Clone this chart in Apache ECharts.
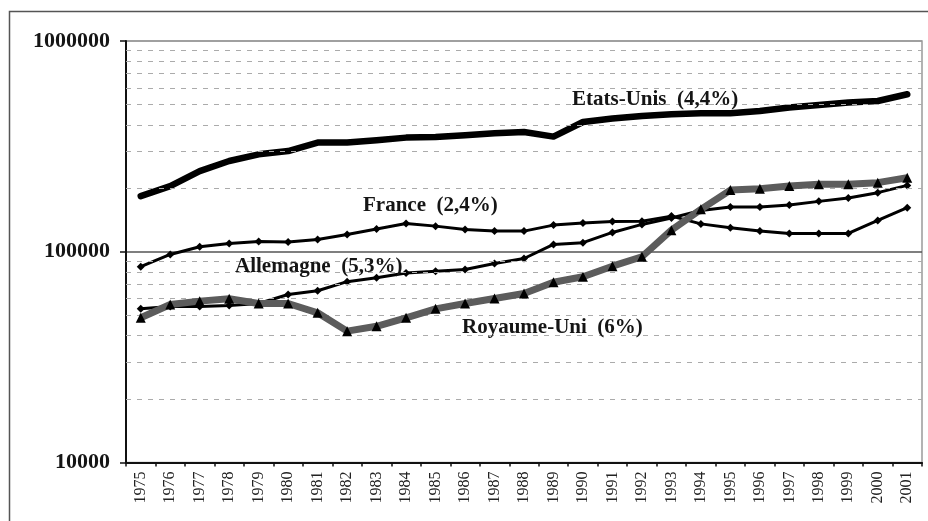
<!DOCTYPE html>
<html>
<head>
<meta charset="utf-8">
<script src="https://cdn.jsdelivr.net/npm/echarts@6/dist/echarts.min.js"></script>
<style>
html,body{margin:0;padding:0;background:#fff;}
#chart{width:928px;height:521px;}
</style>
</head>
<body>
<div id="chart"></div>
<script>
var years = ['1975','1976','1977','1978','1979','1980','1981','1982','1983','1984','1985','1986','1987','1988','1989','1990','1991','1992','1993','1994','1995','1996','1997','1998','1999','2000','2001'];
var etatsUnis = [183700,204900,241500,269400,289900,300600,329500,329500,337900,348000,350000,356800,364800,370000,351900,412800,428400,440900,449200,454000,454000,465600,483200,497100,510300,519300,558800];
var france = [84900,97100,105600,109500,111900,111100,114400,120800,128300,136300,132300,127600,125300,125300,133800,137000,139300,139700,147600,135600,130000,125300,122100,122100,122100,140800,161800];
var allemagne = [53600,55000,55000,55600,56800,62700,65300,72100,75200,79300,80900,82400,88000,92900,108300,110400,123500,134800,144700,157100,162900,162900,166500,173400,179800,190700,206500];
var royaumeUni = [48600,56200,58300,59800,56800,56800,51300,42000,44300,48600,53600,56800,60000,63400,71700,76100,85400,94700,126600,158900,196200,199200,204900,208800,208800,212700,224600];
var yTicks = [10000, 100000, 1000000];
var minorGrid = [20000,30000,40000,50000,60000,70000,80000,90000,200000,300000,400000,500000,600000,700000,800000,900000];
var seriesLabels = ['Etats-Unis  (4,4%)', 'France  (2,4%)', 'Allemagne  (5,3%)', 'Royaume-Uni  (6%)'];

var serif = "'Liberation Serif','Times New Roman',serif";
var labelFont = "bold 21px 'Liberation Serif','Times New Roman',serif";
var chart = echarts.init(document.getElementById('chart'), null, {renderer:'canvas'});
var option = {
  animation: false,
  backgroundColor: '#fff',
  grid: {left: 126, right: 6, top: 41, bottom: 58.5, show: true, borderColor: '#9a9a9a', borderWidth: 1.5, backgroundColor: 'transparent'},
  xAxis: {
    type: 'category',
    data: years,
    boundaryGap: true,
    axisLine: {lineStyle: {color: '#111', width: 2}},
    axisTick: {show: true, length: 4, lineStyle: {color: '#111', width: 1.5}},
    axisLabel: {rotate: 90, margin: 9, fontFamily: serif, fontSize: 16, color: '#222', interval: 0},
    splitLine: {show: false}
  },
  yAxis: {
    type: 'log',
    logBase: 10,
    min: yTicks[0],
    max: yTicks[yTicks.length-1],
    axisLine: {show: true, lineStyle: {color: '#111', width: 2}},
    axisTick: {show: true, length: 6, lineStyle: {color: '#111', width: 1.5}},
    axisLabel: {margin: 16, fontFamily: serif, fontSize: 22, fontWeight: 'bold', color: '#151515',
      formatter: function(v){ return String(Math.round(v)); }},
    splitLine: {show: true, lineStyle: {color: ['transparent', '#555', '#9a9a9a'], width: 1.5}}
  },
  graphic: [
    {type:'rect', silent:true, z:-10, shape:{x:9.5, y:11.5, width:940, height:540}, style:{fill:'none', stroke:'#555', lineWidth:1.5}},
    {type:'text', x:572, y:100, z:100, style:{text: seriesLabels[0], font: labelFont, fill:'#151515', textVerticalAlign:'middle'}},
    {type:'text', x:363, y:205.5, z:100, style:{text: seriesLabels[1], font: labelFont, fill:'#151515', textVerticalAlign:'middle'}},
    {type:'text', x:235, y:267, z:100, style:{text: seriesLabels[2], font: labelFont, fill:'#151515', textVerticalAlign:'middle'}},
    {type:'text', x:462, y:327.5, z:100, style:{text: seriesLabels[3], font: labelFont, fill:'#151515', textVerticalAlign:'middle'}}
  ],
  series: [
    {
      type: 'line', data: [], z: 1, silent: true,
      markLine: {
        silent: true, symbol: 'none', label: {show: false},
        lineStyle: {color: '#ababab', type: [5, 6], width: 1.2},
        data: minorGrid.map(function(v){ return {yAxis: v}; })
      }
    },
    {
      name: 'Etats-Unis', type: 'line', data: etatsUnis, z: 3,
      showSymbol: false, symbol: 'none',
      lineStyle: {color: '#000', width: 6.5, cap: 'round', join: 'round'}
    },
    {
      name: 'France', type: 'line', data: france, z: 4,
      symbol: 'diamond', symbolSize: 8,
      itemStyle: {color: '#000'},
      lineStyle: {color: '#000', width: 3, join: 'round'}
    },
    {
      name: 'Allemagne', type: 'line', data: allemagne, z: 4,
      symbol: 'diamond', symbolSize: 8,
      itemStyle: {color: '#000'},
      lineStyle: {color: '#000', width: 3, join: 'round'}
    },
    {
      name: 'Royaume-Uni', type: 'line', data: royaumeUni, z: 5,
      symbol: 'triangle', symbolSize: 10,
      itemStyle: {color: '#000'},
      lineStyle: {color: '#5c5c5c', width: 7, join: 'round'}
    }
  ]
};
chart.setOption(option);
</script>
</body>
</html>
